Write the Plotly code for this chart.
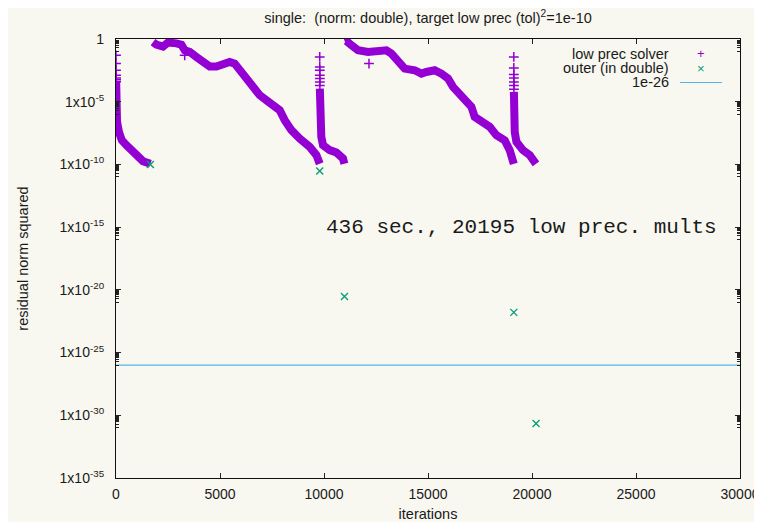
import plotly.graph_objects as go

# ---------------- data ----------------
# low precision solver, dense band parts: iteration and log10(residual^2)
seg1_iter = [8, 15, 25, 35, 50, 140, 280, 500, 740, 981, 1298, 1654]
seg1_exp = [-3.4, -4.2, -5.0, -5.8, -6.6, -7.4, -8.07, -8.46, -8.86, -9.39, -9.74, -9.95]

seg2_iter = [1780, 1942, 2260, 2500, 2904, 3144, 3303, 3543, 3865, 4183, 4505, 4827, 5144,
             5466, 5707, 5947, 6269, 6587, 6909, 7231, 7548, 7870, 8111, 8433, 8832, 9313,
             9635, 9795]
seg2_exp = [-0.25, -0.45, -0.6, -0.28, -0.35, -0.45, -0.9, -1.03, -1.43, -1.83, -2.2, -2.2,
            -1.96, -1.83, -1.96, -2.49, -3.15, -3.95, -4.48, -4.88, -5.28, -5.68, -6.47,
            -7.27, -7.93, -8.6, -9.26, -9.95]

seg3_iter = [9800, 9805, 9810, 9815, 9830, 9870, 9952, 10274, 10596, 10913, 10980]
seg3_exp = [-3.95, -5.0, -6.0, -6.8, -7.3, -7.8, -8.46, -8.86, -9.05, -9.52, -9.95]

seg4_iter = [11000, 11077, 11317, 11635, 12115, 12596, 13000, 13240, 13558, 13880, 14361,
             14683, 14923, 15322, 15644, 15962, 16202, 16524, 16846, 17087, 17245, 17644,
             17966, 18288, 18687, 18928, 19125]
seg4_exp = [-0.2, -0.15, -0.5, -0.9, -1.03, -1.03, -0.9, -1.16, -1.83, -2.36, -2.49, -2.76,
            -2.63, -2.49, -2.76, -3.15, -3.82, -4.48, -5.02, -5.41, -6.21, -6.61, -7.0,
            -7.67, -8.07, -8.86, -9.95]

seg5_iter = [19130, 19135, 19140, 19150, 19170, 19250, 19567, 19890, 20130, 20190]
seg5_exp = [-4.22, -5.2, -6.2, -6.9, -7.4, -8.2, -8.86, -9.26, -9.79, -9.95]

# sparse individual low precision marks (start of restarts, outliers)
marks_iter = [0, 1, 2, 3, 4, 5, 6,
              9795, 9796, 9797, 9798, 9799, 9800, 9801,
              19125, 19126, 19127, 19128, 19129, 19130, 19131,
              3303, 12163]
marks_exp = [-1.3, -1.96, -2.49, -2.89, -3.1, -3.25, -3.4,
             -1.43, -2.23, -2.49, -2.89, -3.15, -3.42, -3.7,
             -1.43, -2.31, -2.84, -3.1, -3.42, -3.7, -4.0,
             -1.3, -1.96]

# outer iterations (in double)
outer_iter = [1654, 9795, 10985, 19125, 20195]
outer_val = [1e-10, 3e-11, 3e-21, 1.6e-22, 2.2e-31]

target_level = 1e-26
x_range = [0, 30000]
x_ticks = [0, 5000, 10000, 15000, 20000, 25000, 30000]
x_tick_text = ["0", "5000", "10000", "15000", "20000", "25000", "30000"]
y_tick_exp = [0, -5, -10, -15, -20, -25, -30, -35]
y_tick_text = ["1", "1x10<sup>-5</sup>", "1x10<sup>-10</sup>", "1x10<sup>-15</sup>",
               "1x10<sup>-20</sup>", "1x10<sup>-25</sup>", "1x10<sup>-30</sup>",
               "1x10<sup>-35</sup>"]

# ---------------- styling ----------------
BG = "#f8f7f0"
PURPLE = "#9400d3"
GREEN = "#009e73"
BLUE = "#56b4e9"
FONT = "Liberation Sans, Arial, sans-serif"
TXT = "#1a1a1a"

# page body has an 8px margin: figure is drawn from (8, 8) of the window
W, H = 754, 514
PL, PT, PW, PH = 108, 31, 624, 439   # plot area in figure pixels

band_x, band_y = [], []
for xs, es in [(seg1_iter, seg1_exp), (seg2_iter, seg2_exp), (seg3_iter, seg3_exp),
               (seg4_iter, seg4_exp), (seg5_iter, seg5_exp)]:
    band_x += xs + [None]
    band_y += [10 ** e for e in es] + [None]

fig = go.Figure()

fig.add_trace(go.Scatter(
    x=band_x, y=band_y, mode="lines", name="low prec solver",
    line=dict(color=PURPLE, width=8),
    showlegend=False, connectgaps=False))

fig.add_trace(go.Scatter(
    x=marks_iter, y=[10 ** e for e in marks_exp], mode="markers", name="low prec solver",
    marker=dict(symbol="cross-thin", size=7, line=dict(color=PURPLE, width=1.5)),
    showlegend=False))

fig.add_trace(go.Scatter(
    x=outer_iter, y=outer_val, mode="markers", name="outer (in double)",
    marker=dict(symbol="x-thin", size=7, line=dict(color=GREEN, width=1.3)),
    showlegend=False))

fig.add_trace(go.Scatter(
    x=x_range, y=[target_level, target_level], mode="lines", name="1e-26",
    line=dict(color=BLUE, width=1.2), showlegend=False))

# minor ticks: decade below each major tick
minor_vals = []
for m in y_tick_exp:
    for k in range(1, 10):
        v = k * 10 ** (m - 1)
        if v >= 1e-35:
            minor_vals.append(v)

fig.update_layout(
    width=W, height=H,
    paper_bgcolor=BG, plot_bgcolor=BG,
    margin=dict(l=PL, r=W - PL - PW, t=PT, b=H - PT - PH, autoexpand=False),
    font=dict(family=FONT, size=14, color=TXT),
    title=dict(text="single:\u00a0 (norm: double), target low prec (tol)<sup>2</sup>=1e-10",
               x=0.5, xref="paper", xanchor="center",
               y=1 - 10 / H, yref="container", yanchor="middle", automargin=False,
               font=dict(family=FONT, size=14.5, color=TXT)),
    xaxis=dict(range=x_range, tickvals=x_ticks, ticktext=x_tick_text, ticks="inside",
               ticklen=5, tickcolor="#222", showline=True, linecolor="#111", linewidth=1.2,
               mirror="ticks", showgrid=False, zeroline=False, automargin=False,
               ticklabelstandoff=3,
               title=dict(text="iterations", standoff=8, font=dict(size=14.5)),
               tickfont=dict(size=14)),
    yaxis=dict(type="log", range=[-35, 0], tickvals=[10 ** e for e in y_tick_exp],
               ticktext=y_tick_text, ticks="inside", ticklen=5, tickcolor="#222",
               showline=True, linecolor="#111", linewidth=1.2, mirror="ticks",
               showgrid=False, zeroline=False, ticklabelstandoff=8, automargin=False,
               minor=dict(tickvals=minor_vals, ticks="inside", ticklen=3,
                          tickcolor="#222", showgrid=False),
               title=dict(text="residual norm squared", standoff=27, font=dict(size=14.5)),
               tickfont=dict(size=14)),
)

# text label inside the plot
fig.add_annotation(x=10000, y=-15, xref="x", yref="y", text="436 sec., 20195 low prec. mults",
                   showarrow=False, xanchor="left", yanchor="middle",
                   font=dict(family="Courier New, Liberation Mono, monospace", size=21, color=TXT))

# manual key (text right of plot, samples on the right as in gnuplot)
# positions given in window pixels of the reference
def px_x(px):
    return (px - 8 - PL) / PW

def px_y(py):
    return (PT + PH - (py - 8)) / PH

key_rows = [("low prec solver", 53.5), ("outer (in double)", 68), ("1e-26", 82.5)]
for label, py in key_rows:
    fig.add_annotation(x=px_x(671), y=px_y(py), xref="paper", yref="paper", text=label,
                       showarrow=False, xanchor="right", yanchor="middle",
                       font=dict(family=FONT, size=14.5, color=TXT))
fig.add_annotation(x=px_x(701), y=px_y(53.5), xref="paper", yref="paper", text="+",
                   showarrow=False, xanchor="center", yanchor="middle",
                   font=dict(family=FONT, size=13, color=PURPLE))
fig.add_annotation(x=px_x(701), y=px_y(68), xref="paper", yref="paper", text="×",
                   showarrow=False, xanchor="center", yanchor="middle",
                   font=dict(family=FONT, size=13, color=GREEN))
fig.add_shape(type="line", xref="paper", yref="paper",
              x0=px_x(680), x1=px_x(722), y0=px_y(82.5), y1=px_y(82.5),
              line=dict(color=BLUE, width=1.2))

fig.write_html("out.html")
